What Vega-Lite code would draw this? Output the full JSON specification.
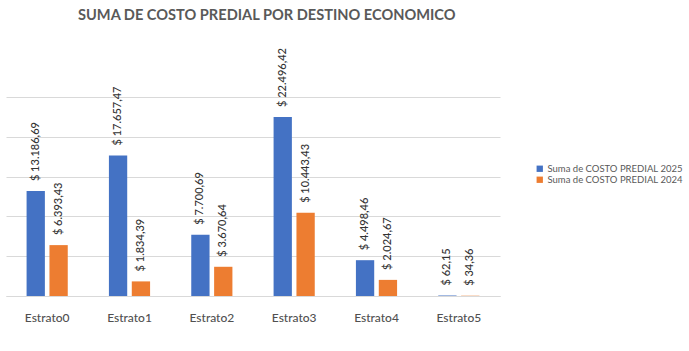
{
  "$schema": "https://vega.github.io/schema/vega-lite/v6.json",
  "autosize": "none",
  "width": 494,
  "height": 199,
  "padding": {"left": 6, "top": 97, "right": 189, "bottom": 55},
  "background": "white",
  "config": {
    "view": {"stroke": null},
    "font": "Lato",
    "locale": {
      "number": {"decimal": ",", "thousands": ".", "grouping": [3], "currency": ["$ ", ""]}
    }
  },
  "title": {
    "text": "SUMA DE COSTO PREDIAL POR DESTINO ECONOMICO",
    "anchor": "start",
    "frame": "group",
    "dx": 72,
    "offset": 25,
    "font": "Lato",
    "fontSize": 14.6,
    "fontWeight": "bold",
    "color": "#595959"
  },
  "data": {
    "values": [
      {"estrato": "Estrato0", "serie": "Suma de COSTO PREDIAL 2025", "valor": 13186.69},
      {"estrato": "Estrato0", "serie": "Suma de COSTO PREDIAL 2024", "valor": 6393.43},
      {"estrato": "Estrato1", "serie": "Suma de COSTO PREDIAL 2025", "valor": 17657.47},
      {"estrato": "Estrato1", "serie": "Suma de COSTO PREDIAL 2024", "valor": 1834.39},
      {"estrato": "Estrato2", "serie": "Suma de COSTO PREDIAL 2025", "valor": 7700.69},
      {"estrato": "Estrato2", "serie": "Suma de COSTO PREDIAL 2024", "valor": 3670.64},
      {"estrato": "Estrato3", "serie": "Suma de COSTO PREDIAL 2025", "valor": 22496.42},
      {"estrato": "Estrato3", "serie": "Suma de COSTO PREDIAL 2024", "valor": 10443.43},
      {"estrato": "Estrato4", "serie": "Suma de COSTO PREDIAL 2025", "valor": 4498.46},
      {"estrato": "Estrato4", "serie": "Suma de COSTO PREDIAL 2024", "valor": 2024.67},
      {"estrato": "Estrato5", "serie": "Suma de COSTO PREDIAL 2025", "valor": 62.15},
      {"estrato": "Estrato5", "serie": "Suma de COSTO PREDIAL 2024", "valor": 34.36}
    ]
  },
  "encoding": {
    "x": {
      "field": "estrato",
      "type": "nominal",
      "scale": {"paddingInner": 0.5, "paddingOuter": 0.25},
      "axis": {
        "title": null,
        "labelAngle": 0,
        "labelFont": "Lato",
        "labelFontSize": 12,
        "labelFontWeight": 500,
        "labelColor": "#505050",
        "labelPadding": 16,
        "ticks": false,
        "domainColor": "#d9d9d9",
        "domainWidth": 1
      }
    },
    "xOffset": {
      "field": "serie",
      "type": "nominal",
      "sort": ["Suma de COSTO PREDIAL 2025", "Suma de COSTO PREDIAL 2024"],
      "scale": {"paddingInner": 0.2}
    },
    "y": {
      "field": "valor",
      "type": "quantitative",
      "scale": {"domain": [0, 25000], "nice": false},
      "axis": {
        "title": null,
        "labels": false,
        "ticks": false,
        "domain": false,
        "values": [0, 5000, 10000, 15000, 20000, 25000],
        "gridColor": "#d9d9d9",
        "gridWidth": 1
      }
    }
  },
  "layer": [
    {
      "mark": {"type": "bar"},
      "encoding": {
        "color": {
          "field": "serie",
          "type": "nominal",
          "sort": ["Suma de COSTO PREDIAL 2025", "Suma de COSTO PREDIAL 2024"],
          "scale": {"range": ["#4472C4", "#ED7D31"]},
          "legend": {
            "title": null,
            "orient": "none",
            "legendX": 529,
            "legendY": 67,
            "symbolType": "square",
            "symbolSize": 40,
            "symbolStrokeWidth": 0,
            "labelFont": "Lato",
            "labelFontSize": 9.5,
            "labelColor": "#595959",
            "labelOffset": 3,
            "rowPadding": 0
          }
        }
      }
    },
    {
      "mark": {
        "type": "text",
        "angle": 270,
        "align": "left",
        "baseline": "middle",
        "dx": 10,
        "font": "Lato",
        "fontSize": 11,
        "fontWeight": 500,
        "color": "#333333"
      },
      "encoding": {
        "text": {"field": "valor", "type": "quantitative", "format": "$,.2f"}
      }
    }
  ]
}
